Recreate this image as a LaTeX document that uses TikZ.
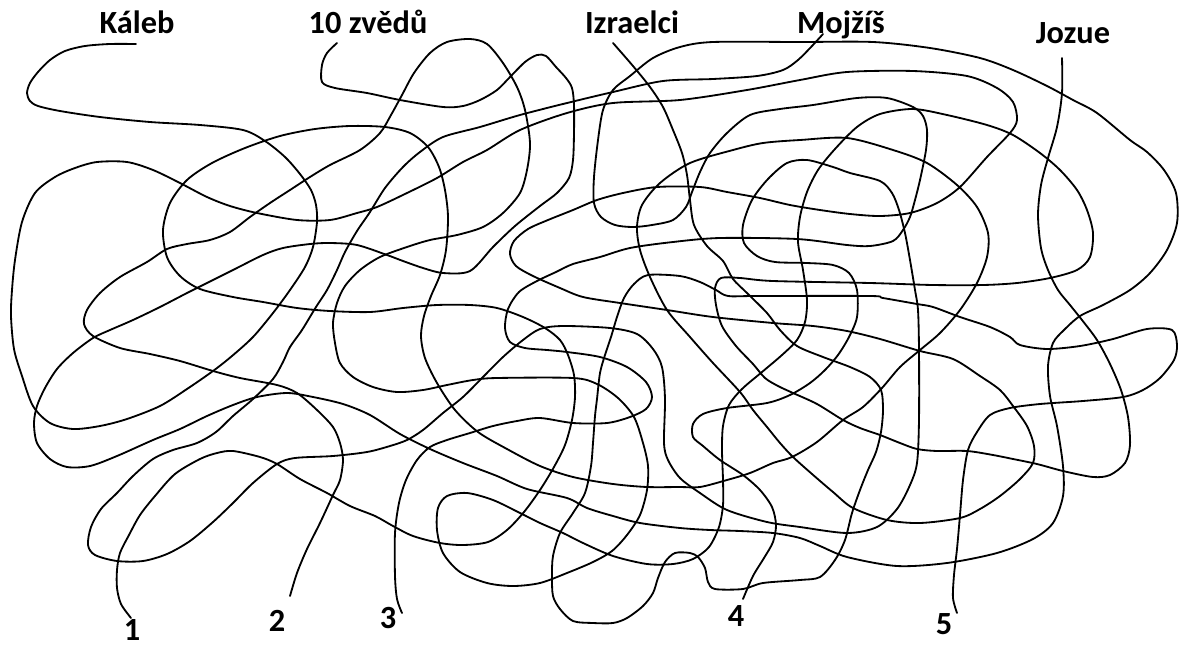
\documentclass[tikz,border=0pt]{standalone}
\usepackage{fontspec}
\setmainfont{Carlito}
\usepackage{tikz}
\tikzset{
  wire/.style={line width=1.3pt, line join=round, line cap=round},
  lbl/.style={font=\bfseries\fontsize{23}{27}\selectfont, anchor=base, inner sep=0pt}
}
\begin{document}
\begin{tikzpicture}[x=0.025cm, y=-0.025cm]
            \useasboundingbox (0,0) rectangle (1179,646);
            % Names
            \node[lbl] (kaleb) at (137,33) {Káleb};
            \node[lbl] (zvedu) at (368,33) {10 zvědů};
            \node[lbl] (izraelci) at (632,33) {Izraelci};
            \node[lbl] (mojzis) at (841,33) {Mojžíš};
            \node[lbl] (jozue) at (1073,43) {Jozue};
            % Numbers
            \node[lbl] (one) at (132,640) {1};
            \node[lbl] (two) at (277,631) {2};
            \node[lbl] (three) at (388,628) {3};
            \node[lbl] (four) at (736,626) {4};
            \node[lbl] (five) at (944,634) {5};
            % Kaleb line
            \draw[wire] plot[smooth, tension=0.5] coordinates {(136,44) (110,44) (85,46) (65,51) (50,60) (38,72) (30,83) (27,93) (30,101) (38,106) (60,111) (100,117) (150,122) (200,125) (243,130) (265,141) (285,157) (300,174) (311,190) (316,205) (317,222) (313,247) (305,267) (290,290) (273,313) (253,337) (232,356) (213,371) (187,389) (160,406) (127,419) (100,426) (73,429) (50,423) (33,406) (22,376) (14,349) (11,316) (12,290) (15,260) (22,222) (35,193) (55,177) (75,168) (97,162) (127,162) (153,170) (180,183) (207,197) (230,206) (257,213) (297,220) (330,220) (357,213) (377,207) (407,193) (437,178) (463,162) (487,150) (520,130) (567,113) (613,103) (680,100) (747,90) (800,80) (847,72) (913,71) (967,76) (997,88) (1013,102) (1017,120) (1010,133) (987,157) (960,187) (937,203) (910,213) (880,216) (850,214) (820,210) (790,205) (760,198) (727,192) (700,187) (657,187) (623,193) (597,200) (573,210) (548,220) (528,229) (514,241) (510,254) (516,266) (533,276) (560,288) (583,297) (620,303) (667,310) (713,317) (773,323) (813,326) (847,331) (880,339) (920,351) (953,359) (980,376) (1000,390) (1013,406) (1027,426) (1034,446) (1033,463) (1020,479) (1000,496) (980,509) (960,518) (920,523) (887,520) (853,508) (833,492) (812,474) (793,457) (780,443) (767,427) (753,410) (740,392) (713,363) (690,337) (667,310) (650,277) (640,250) (637,227) (642,205) (660,183) (690,163) (733,150) (763,143) (800,140) (847,138) (893,150) (927,163) (957,185) (977,207) (988,233) (987,257) (977,283) (960,310) (940,333) (920,350) (900,367) (882,388) (863,407) (843,420) (817,442) (792,457) (773,463) (750,473) (727,480) (700,487) (680,487) (647,487) (613,484) (573,477) (540,466) (507,449) (478,432) (455,410) (437,383) (425,358) (421,336) (424,316) (431,296) (440,275) (446,250) (448,217) (445,190) (439,167) (428,147) (410,133) (385,127) (350,126) (315,129) (280,136) (245,148) (212,163) (187,180) (170,203) (163,230) (167,257) (180,276) (200,289) (233,297) (263,302) (297,308) (330,311) (370,312) (403,308) (437,305) (470,305) (497,308) (523,317) (545,328) (560,340) (568,355) (574,375) (575,397) (572,420) (565,445) (554,467) (540,490) (524,512) (507,530) (488,542) (463,545) (440,543) (413,536) (393,526) (375,516) (350,506) (327,493) (300,479) (277,464) (260,457) (233,451) (217,453) (200,459) (175,474) (155,496) (140,515) (129,535) (120,553) (117,570) (117,588) (121,604) (131,618)};
            % 10 zvedu line
            \draw[wire] plot[smooth, tension=0.5] coordinates {(337,43) (327,53) (322,65) (322,82) (335,88) (367,93) (400,100) (443,107) (463,106) (480,100) (497,90) (510,77) (525,62) (537,55) (546,56) (556,67) (566,78) (572,88) (574,105) (574,133) (573,160) (569,178) (557,193) (540,206) (515,226) (493,247) (470,271) (443,273) (423,268) (403,261) (387,255) (357,245) (330,243) (310,244) (283,248) (263,255) (233,270) (207,283) (187,293) (160,307) (133,320) (110,330) (93,338) (73,353) (57,369) (45,388) (37,406) (34,423) (37,443) (50,459) (67,467) (90,466) (117,456) (153,440) (180,429) (207,416) (233,405) (257,397) (287,393) (313,397) (343,404) (370,415) (400,434) (430,449) (463,463) (497,476) (527,489) (567,498) (587,508) (613,516) (640,523) (680,528) (710,530) (740,531) (773,533) (800,538) (820,546) (847,557) (897,566) (947,563) (997,553) (1033,539) (1053,523) (1063,496) (1063,466) (1057,426) (1050,396) (1048,366) (1053,343) (1064,330) (1080,316) (1103,305) (1130,290) (1150,273) (1167,250) (1177,223) (1176,193) (1164,170) (1147,152) (1130,140) (1097,113) (1073,100) (1047,86) (1013,70) (980,58) (930,48) (873,42) (800,42) (713,42) (680,47) (653,58) (630,76) (613,90) (603,110) (598,140) (594,177) (594,203) (601,217) (615,225) (633,227) (652,225) (673,220) (686,207) (692,192) (700,172) (710,153) (727,133) (750,115) (780,109) (813,105) (857,98) (887,98) (913,107) (923,116) (927,130) (926,150) (920,180) (915,200) (910,217) (903,230) (893,241) (870,246) (847,245) (797,239) (720,238) (673,242) (630,248) (600,257) (573,264) (556,272) (537,281) (519,292) (508,309) (505,328) (510,342) (525,348) (547,350) (567,352) (600,357) (627,367) (646,382) (652,397) (646,409) (630,417) (607,423) (573,423) (540,418) (517,421) (493,426) (470,433) (447,440) (430,447) (417,460) (406,480) (399,503) (395,533) (395,576) (397,599) (402,613)};
            % Izraelci line
            \draw[wire] plot[smooth, tension=0.5] coordinates {(613,43) (633,66) (650,87) (663,107) (673,130) (682,153) (687,175) (690,200) (694,225) (707,246) (723,261) (733,279) (747,293) (767,313) (780,330) (797,346) (823,357) (850,367) (870,377) (881,390) (883,410) (881,432) (876,452) (868,470) (860,490) (852,513) (845,540) (835,560) (820,577) (800,580) (763,583) (743,589) (715,589) (708,582) (705,568) (698,557) (690,553) (675,553) (665,562) (658,578) (653,593) (643,606) (627,618) (613,623) (593,623) (573,621) (560,609) (553,596) (552,576) (553,556) (560,533) (573,513) (585,493) (591,466) (593,443) (595,416) (597,399) (600,373) (605,355) (611,337) (617,317) (624,298) (634,284) (648,275) (680,276) (700,282) (716,290) (728,296) (757,296) (870,296) (883,298) (917,304) (933,307) (960,317) (990,327) (1010,337) (1020,345) (1047,349) (1080,346) (1113,339) (1147,329) (1172,330) (1177,345) (1174,360) (1160,378) (1143,390) (1123,397) (1083,401) (1040,404) (1010,408) (990,415) (977,432) (968,450) (963,480) (960,515) (957,549) (954,575) (953,598) (957,613)};
            % Mojzis line
            \draw[wire] plot[smooth, tension=0.5] coordinates {(823,34) (812,46) (798,60) (783,70) (757,76) (713,79) (663,81) (613,92) (567,103) (520,115) (480,127) (443,137) (420,152) (403,167) (385,188) (370,212) (357,231) (345,252) (337,270) (327,290) (316,307) (302,330) (290,347) (283,362) (273,379) (253,399) (233,416) (216,432) (197,443) (173,450) (153,459) (133,476) (117,493) (101,509) (91,527) (88,545) (95,555) (117,561) (143,561) (167,554) (190,541) (213,522) (233,503) (253,483) (277,464) (295,458) (333,456) (367,452) (390,446) (407,440) (423,430) (443,413) (463,397) (483,377) (503,357) (523,340) (540,329) (563,326) (610,328) (637,334) (653,349) (662,367) (665,399) (664,443) (668,460) (680,478) (700,493) (727,510) (767,522) (800,527) (847,533) (877,527) (897,509) (910,485) (917,463) (919,420) (919,350) (918,310) (915,290) (910,260) (905,233) (899,210) (892,193) (880,181) (850,173) (833,167) (807,160) (787,163) (768,179) (752,200) (743,225) (744,243) (757,256) (775,262) (807,263) (833,265) (849,273) (857,290) (857,317) (849,337) (838,355) (825,370) (810,383) (790,395) (767,403) (727,408) (703,414) (693,424) (693,437) (703,446) (720,460) (743,475) (760,490) (772,507) (776,525) (773,542) (764,558) (753,576) (743,599)};
            % Jozue line
            \draw[wire] plot[smooth, tension=0.5] coordinates {(1062,58) (1062,93) (1057,127) (1048,158) (1041,185) (1038,215) (1041,248) (1048,270) (1058,290) (1070,305) (1082,320) (1097,340) (1110,364) (1121,390) (1128,417) (1130,445) (1125,463) (1110,475) (1093,477) (1063,471) (1037,464) (1013,459) (993,455) (967,451) (937,451) (917,449) (900,443) (880,435) (860,428) (843,420) (817,404) (793,393) (778,386) (765,378) (753,364) (736,346) (722,326) (716,305) (715,288) (721,278) (740,278) (773,281) (870,283) (933,285) (983,285) (1017,283) (1050,278) (1077,270) (1090,257) (1093,233) (1087,210) (1077,190) (1060,170) (1040,153) (1013,135) (987,125) (947,115) (913,109) (880,114) (857,127) (835,149) (818,170) (807,192) (800,217) (798,242) (803,270) (807,300) (805,322) (797,340) (782,355) (762,372) (742,389) (729,405) (723,426) (722,450) (723,480) (723,505) (719,527) (709,547) (693,559) (673,564) (647,564) (613,556) (583,543) (563,533) (540,523) (520,513) (493,500) (467,493) (447,496) (438,508) (437,530) (443,553) (460,572) (487,583) (513,586) (540,583) (567,573) (593,562) (612,551) (627,535) (640,515) (647,490) (648,466) (643,443) (634,417) (618,398) (597,384) (573,378) (497,378) (473,380) (447,385) (423,390) (397,392) (373,387) (353,377) (340,363) (335,343) (333,323) (337,303) (345,286) (360,270) (380,257) (407,247) (430,240) (457,235) (483,227) (503,213) (520,193) (527,170) (530,143) (525,110) (517,87) (503,63) (487,44) (470,39) (447,42) (430,53) (414,73) (402,95) (391,115) (380,133) (360,150) (330,165) (310,177) (290,190) (270,203) (250,217) (230,232) (210,240) (187,244) (167,249) (147,262) (120,277) (100,293) (87,310) (84,324) (93,336) (120,348) (150,354) (180,361) (213,371) (240,378) (277,385) (297,393) (317,410) (333,427) (340,443) (343,460) (340,480) (333,495) (320,523) (307,549) (297,573) (290,596)};
\end{tikzpicture}
\end{document}
